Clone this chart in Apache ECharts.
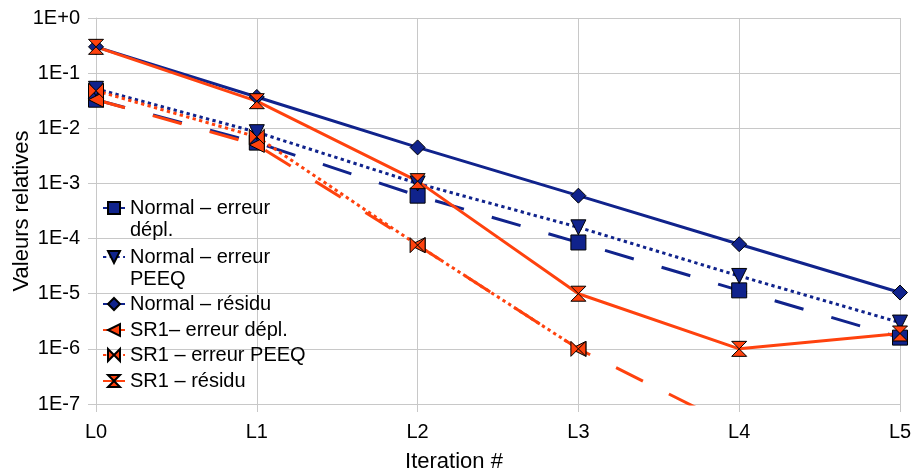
<!DOCTYPE html>
<html>
<head>
<meta charset="utf-8">
<script src="https://cdn.jsdelivr.net/npm/echarts@6/dist/echarts.min.js"></script>
<style>
html,body{margin:0;padding:0;background:#fff;}
#chart{width:914px;height:476px;}
</style>
</head>
<body>
<div id="chart"></div>
<script>
// ---- data ----
var categories = ['L0', 'L1', 'L2', 'L3', 'L4', 'L5'];
var yTickLabels = ['1E+0', '1E-1', '1E-2', '1E-3', '1E-4', '1E-5', '1E-6', '1E-7'];
var seriesNames = ['Normal – erreur dépl.', 'Normal – erreur PEEQ', 'Normal – résidu',
                   'SR1– erreur dépl.', 'SR1 – erreur PEEQ', 'SR1 – résidu'];
var legendLines = [['Normal – erreur', 'dépl.'], ['Normal – erreur', 'PEEQ'], ['Normal – résidu'],
                   ['SR1– erreur dépl.'], ['SR1 – erreur PEEQ'], ['SR1 – résidu']];
var normalDepl  = [0.033, 0.0055, 0.0006, 0.000085, 0.0000115, 0.0000016];
var normalPeeq  = [0.052, 0.0085, 0.001, 0.00016, 0.000021, 0.000003];
var normalRes   = [0.3, 0.037, 0.0045, 0.0006, 0.000079, 0.0000105];
var sr1Depl     = [0.033, 0.005, 0.000076, 0.000001, 0.000000035, null];
var sr1Peeq     = [0.048, 0.007, 0.000076, 0.000001, null, null];
var sr1Res      = [0.3, 0.031, 0.0011, 0.00001, 0.000001, 0.0000019];

// ---- styles ----
var BLUE = '#10238c', RED = '#ff420e';
var FONT = "'Liberation Sans', Arial, sans-serif";
var GRID = '#c8c8c8';
var SYM_DOWN = 'path://M0,0 L10,0 L5,10 Z';
var SYM_LEFT = 'path://M10,0 L10,10 L0,5 Z';
var SYM_BOWTIE = 'path://M0,0 L5,5 L0,10 Z M10,0 L5,5 L10,10 Z';
var SYM_HOUR = 'path://M0,0 L10,0 L5,5 Z M0,10 L10,10 L5,5 Z';

var defs = [
  {data: normalDepl, color: BLUE, symbol: 'rect', dash: [30, 29]},
  {data: normalPeeq, color: BLUE, symbol: SYM_DOWN, dash: [3.3, 3.4]},
  {data: normalRes, color: BLUE, symbol: 'diamond', dash: 'solid'},
  {data: sr1Depl, color: RED, symbol: SYM_LEFT, dash: [30, 29]},
  {data: sr1Peeq, color: RED, symbol: SYM_BOWTIE, dash: [3.3, 3.4]},
  {data: sr1Res, color: RED, symbol: SYM_HOUR, dash: 'solid'}
];

var series = defs.map(function (d, i) {
  return {
    name: seriesNames[i],
    type: 'line',
    data: d.data,
    symbol: d.symbol,
    symbolSize: 15,
    showSymbol: true,
    clip: true,
    connectNulls: false,
    lineStyle: {color: d.color, width: 3, type: d.dash},
    itemStyle: {color: d.color, borderColor: '#000', borderWidth: 1}
  };
});

var legendFirstLineY = [208, 257, 304, 330, 355, 381];
var legends = seriesNames.map(function (name, i) {
  var lines = legendLines[i];
  var multi = lines.length > 1;
  return {
    data: [name],
    left: 102,
    top: legendFirstLineY[i] - (multi ? 33 : 11),
    padding: 0,
    itemWidth: 22,
    itemHeight: 15,
    itemGap: 4,
    selectedMode: false,
    formatter: function () { return multi ? ' \n' + lines.join('\n') : lines[0]; },
    textStyle: {fontFamily: FONT, fontSize: 20, color: '#000', lineHeight: 22}
  };
});

var chart = echarts.init(document.getElementById('chart'), null, {renderer: 'canvas'});
chart.setOption({
  animation: false,
  backgroundColor: '#fff',
  grid: {left: 96, right: 14, top: 18, bottom: 72, containLabel: false, outerBoundsMode: 'none'},
  legend: legends,
  xAxis: {
    type: 'category',
    data: categories,
    boundaryGap: false,
    name: 'Iteration #',
    nameLocation: 'middle',
    nameGap: 47,
    nameMoveOverlap: false,
    nameTextStyle: {fontFamily: FONT, fontSize: 22, color: '#000', padding: [0, 88, 0, 0]},
    axisLine: {lineStyle: {color: GRID, width: 1}},
    axisTick: {show: true, length: 8, lineStyle: {color: GRID}},
    axisLabel: {fontFamily: FONT, fontSize: 20, color: '#000', margin: 18},
    splitLine: {show: true, lineStyle: {color: GRID, width: 1}}
  },
  yAxis: {
    type: 'log',
    logBase: 10,
    min: 1e-7,
    max: 1,
    splitNumber: 7,
    name: 'Valeurs relatives',
    nameLocation: 'middle',
    nameGap: 63,
    nameMoveOverlap: false,
    nameTextStyle: {fontFamily: FONT, fontSize: 22, color: '#000'},
    axisLine: {show: true, lineStyle: {color: GRID, width: 1}},
    axisTick: {show: true, length: 8, lineStyle: {color: GRID}},
    minorTick: {show: false},
    axisLabel: {
      fontFamily: FONT, fontSize: 20, color: '#000', margin: 16,
      formatter: function (v) {
        var k = Math.round(-Math.log10(v));
        return yTickLabels[k] !== undefined ? yTickLabels[k] : '';
      }
    },
    splitLine: {show: true, lineStyle: {color: GRID, width: 1}}
  },
  series: series
});
</script>
</body>
</html>
